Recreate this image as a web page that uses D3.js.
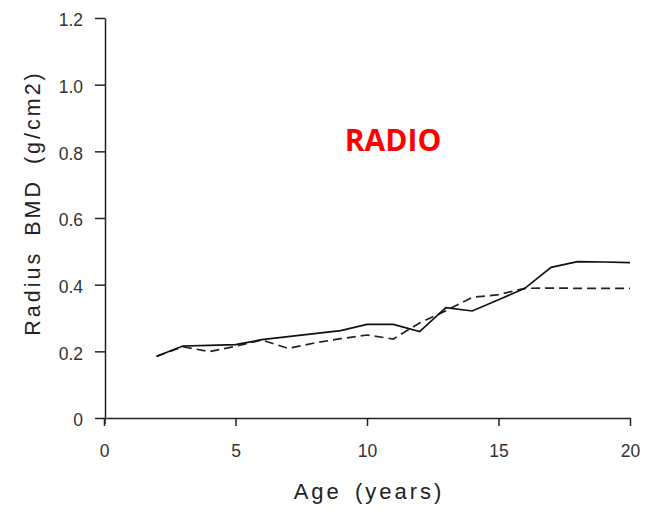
<!DOCTYPE html>
<html><head><meta charset="utf-8">
<script src="https://cdn.jsdelivr.net/npm/d3@7"></script>
<style>body{margin:0;background:#fff}</style>
</head><body>
<svg id="c" width="654" height="512"></svg>
<script>
const ages = [2,3,4,5,6,7,8,9,10,11,12,13,14,15,16,17,18,19,20];
const solidBMD  = [0.185,0.216,0.218,0.220,0.235,0.244,0.253,0.262,0.281,0.281,0.259,0.331,0.321,0.355,0.389,0.452,0.469,0.468,0.466];
const dashedBMD = [0.185,0.214,0.199,0.215,0.234,0.209,0.225,0.238,0.249,0.237,0.285,0.322,0.362,0.370,0.389,0.390,0.389,0.389,0.389];
const xTicks = [0,5,10,15,20];
const yTicks = [0,0.2,0.4,0.6,0.8,1.0,1.2];
const yTickLabels = ["0","0.2","0.4","0.6","0.8","1.0","1.2"];

const svg = d3.select("#c");
const x = d3.scaleLinear().domain([0,20]).range([104,630]);
const y = d3.scaleLinear().domain([0,1.2]).range([418,18]);
const font = "Liberation Sans, Arial, sans-serif";

const xa = svg.append("g").attr("transform","translate(0,418)")
  .call(d3.axisBottom(x).tickValues(xTicks).tickSize(8).tickPadding(19).tickSizeOuter(0));
const ya = svg.append("g").attr("transform","translate(105,0)")
  .call(d3.axisLeft(y).tickValues(yTicks).tickFormat((d,i)=>yTickLabels[i]).tickSize(10).tickPadding(12).tickSizeOuter(0));
[xa,ya].forEach(a=>{
  a.selectAll("path,line").attr("stroke","#222").attr("stroke-width",1.5);
  a.selectAll("text").attr("font-family",font).attr("font-size",17.5).attr("fill","#333");
});
ya.selectAll("text").attr("dy","0.45em");
// y axis extends slightly below x axis
svg.append("line").attr("x1",105).attr("x2",105).attr("y1",y(0)).attr("y2",y(0)+6).attr("stroke","#222").attr("stroke-width",1.5);

const line = d3.line().x((d,i)=>x(ages[i])).y(d=>y(d));
svg.append("path").datum(dashedBMD).attr("d",line).attr("fill","none")
  .attr("stroke","#222").attr("stroke-width",1.7).attr("stroke-dasharray","9,5");
svg.append("path").datum(solidBMD).attr("d",line).attr("fill","none")
  .attr("stroke","#111").attr("stroke-width",1.7);

svg.append("text").attr("x",369).attr("y",499).attr("text-anchor","middle")
  .attr("font-family",font).attr("font-size",22).attr("letter-spacing",3).attr("word-spacing",4).attr("fill","#222").text("Age (years)");
svg.append("text").attr("transform","translate(40,203) rotate(-90)").attr("text-anchor","middle")
  .attr("font-family",font).attr("font-size",21.5).attr("letter-spacing",3).attr("word-spacing",6).attr("fill","#222").text("Radius BMD (g/cm2)");
svg.append("text").attr("x",393).attr("y",151).attr("text-anchor","middle")
  .attr("font-family","Open Sans, Liberation Sans, sans-serif").attr("font-weight","bold").attr("font-size",30)
  .attr("fill","#ff0000").text("RADIO");
</script>
</body></html>
